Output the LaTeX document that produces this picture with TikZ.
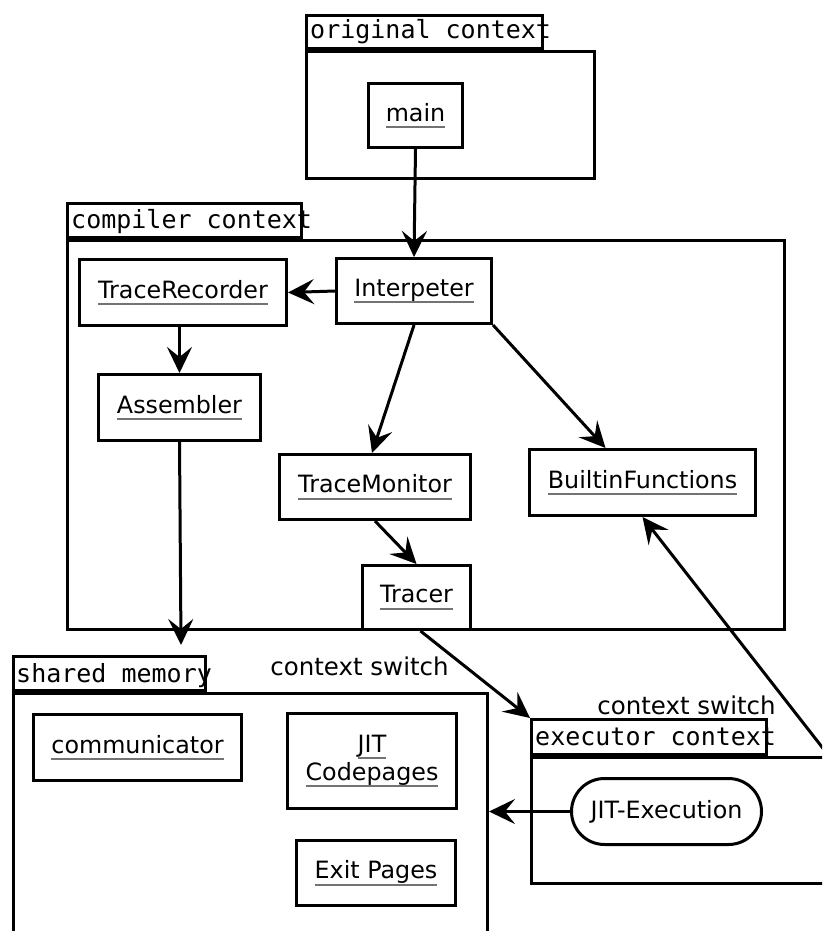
\documentclass[tikz,border=0pt]{standalone}
\usepackage{fontspec}
\setmainfont{DejaVu Sans}
\setmonofont{DejaVu Sans Mono}
\usetikzlibrary{arrows.meta,calc}
\definecolor{ulgray}{gray}{0.45}
\newcommand\und[1]{\setbox0=\hbox{#1}\rlap{\textcolor{ulgray}{\rule[-7pt]{\wd0}{2pt}}}\box0}
\begin{document}
\begin{tikzpicture}[x=1pt,y=-1pt,
  ctn/.style={draw, line width=3pt, outer sep=1.5pt, inner sep=0pt},
  obj/.style={draw, line width=3pt, outer sep=1.5pt, inner sep=0pt, align=center,
    font=\fontsize{23.8}{28}\selectfont},
  tablabel/.style={anchor=base west, inner sep=0pt, font=\fontsize{25}{28}\ttfamily},
  plain/.style={inner sep=0pt, font=\fontsize{24.5}{28}\selectfont},
  arr/.style={line width=3pt, -{Stealth[length=26pt,width=25pt,inset=10pt]}}]
\path[use as bounding box] (0,0) rectangle (822,931);
\clip (0,0) rectangle (822,931);
\fill[white] (0,0) rectangle (822,931);

% containers
\node[tablabel] (otabl) at (310,39) {original context};
\node[ctn, minimum width=236pt, minimum height=33pt] (otab) at (424.5,32) {};
\node[ctn, minimum width=288pt, minimum height=127pt] (obox) at (450.5,115) {};

\node[tablabel] (ctabl) at (71,228) {compiler context};
\node[ctn, minimum width=234pt, minimum height=34pt] (ctab) at (184.5,220.5) {};
\node[ctn, minimum width=717pt, minimum height=389pt] (cbox) at (426,435) {};

\node[tablabel] (stabl) at (16,682) {shared memory};
\node[ctn, minimum width=192pt, minimum height=34pt] (stab) at (109.5,673.5) {};
\node[ctn, minimum width=474pt, minimum height=265pt] (sbox) at (250.5,826) {};

\node[tablabel] (etabl) at (535,745) {executor context};
\node[ctn, minimum width=235pt, minimum height=35pt] (etab) at (649,737) {};
\node[ctn, minimum width=296pt, minimum height=126pt] (ebox) at (679.5,820.5) {};

\node[plain, anchor=base] (cs1) at (359.5,675) {context switch};
\node[plain, anchor=base] (cs2) at (686.5,714) {context switch};

% objects
\node[obj, minimum width=94pt, minimum height=64pt] (main) at (415.5,115.5) {\und{main}};
\node[obj, minimum width=155pt, minimum height=65pt] (Interpeter) at (414,291) {\und{Interpeter}};
\node[obj, minimum width=207pt, minimum height=66pt] (TraceRecorder) at (183,292.5) {\und{TraceRecorder}};
\node[obj, minimum width=162pt, minimum height=66pt] (Assembler) at (179.5,407.5) {\und{Assembler}};
\node[obj, minimum width=191pt, minimum height=65pt] (TraceMonitor) at (375,487) {\und{TraceMonitor}};
\node[obj, minimum width=226pt, minimum height=66pt] (BuiltinFunctions) at (642.5,482.5) {\und{BuiltinFunctions}};
\node[obj, minimum width=108pt, minimum height=64pt] (Tracer) at (416.5,597.5) {\und{Tracer}};
\node[obj, minimum width=208pt, minimum height=66pt] (communicator) at (137.5,747.5) {\und{communicator}};
\node[obj, minimum width=169pt, minimum height=95pt] (JITCode) at (372,761) {\und{JIT}\\\und{Codepages}};
\node[obj, minimum width=159pt, minimum height=65pt] (ExitPages) at (376,873) {\und{Exit Pages}};
\node[obj, rounded corners=33pt, minimum width=190pt, minimum height=66pt] (JITExec) at (666.5,811.5) {JIT-Execution};

% connectors
\coordinate (smin) at (181,645);
\draw[arr] (main.south) -- (Interpeter.north);
\draw[arr] (Interpeter.west) -- (TraceRecorder.east);
\draw[arr] (Assembler.north |- TraceRecorder.south) -- (Assembler.north);
\draw[arr] (Interpeter.south) -- ([xshift=-3pt]TraceMonitor.north);
\draw[arr] (Interpeter.south east) -- ([xshift=-37pt]BuiltinFunctions.north);
\draw[arr] (TraceMonitor.south) -- (Tracer.north);
\draw[arr] (Assembler.south) -- (smin);
\draw[arr] ([xshift=4pt]Tracer.south) -- (etab.north west);
\draw[arr] (ebox.north east) -- (BuiltinFunctions.south);
\draw[arr] (JITExec.west) -- (JITExec.west -| sbox.east);
\end{tikzpicture}
\end{document}
